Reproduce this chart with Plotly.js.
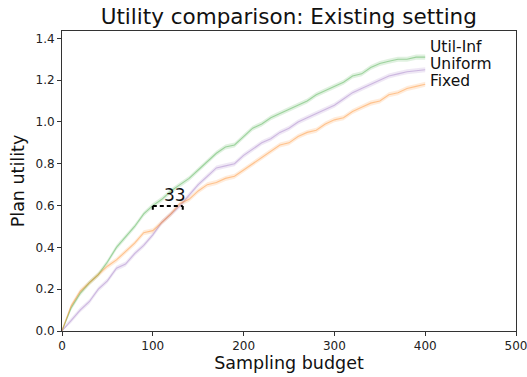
<!DOCTYPE html>
<html>
<head>
<meta charset="utf-8">
<script src="https://cdn.plot.ly/plotly-3.0.1.min.js"></script>
<style>html,body{margin:0;padding:0;background:#fff;}#chart{width:527px;height:377px;}</style>
</head>
<body>
<div id="chart"></div>
<script>
const budget = [0,10,20,30,40,50,60,70,80,90,100,110,120,130,140,150,160,170,180,190,200,210,220,230,240,250,260,270,280,290,300,310,320,330,340,350,360,370,380,390,400];
const utilInf = [0,0.11,0.18,0.23,0.27,0.33,0.40,0.45,0.50,0.56,0.60,0.63,0.67,0.70,0.73,0.77,0.81,0.85,0.88,0.89,0.93,0.97,0.99,1.02,1.04,1.06,1.08,1.10,1.13,1.15,1.17,1.19,1.22,1.23,1.26,1.28,1.29,1.30,1.30,1.31,1.31];
const uniform = [0,0.05,0.10,0.14,0.20,0.24,0.30,0.32,0.37,0.41,0.46,0.52,0.56,0.60,0.65,0.70,0.74,0.78,0.79,0.80,0.84,0.87,0.90,0.92,0.95,0.97,1.00,1.02,1.04,1.06,1.08,1.11,1.14,1.16,1.18,1.20,1.22,1.23,1.24,1.245,1.25];
const fixed = [0,0.12,0.19,0.23,0.27,0.31,0.34,0.38,0.42,0.47,0.48,0.52,0.56,0.61,0.63,0.67,0.70,0.71,0.73,0.74,0.77,0.80,0.83,0.86,0.89,0.90,0.93,0.95,0.96,0.99,1.01,1.02,1.05,1.07,1.09,1.10,1.13,1.14,1.16,1.17,1.18];
const seriesNames = ["Util-Inf","Uniform","Fixed"];
const gapLevel = 0.598;
const gapStart = 100;
const gapEnd = 133;
const xTicks = [0,100,200,300,400,500];
const yTicks = [0,0.2,0.4,0.6,0.8,1.0,1.2,1.4];

const band = 0.012;
const font = "DejaVu Sans, sans-serif";
const series = [
  {name: seriesNames[0], y: utilInf, rgb: "44,160,44"},
  {name: seriesNames[1], y: uniform, rgb: "148,103,189"},
  {name: seriesNames[2], y: fixed, rgb: "255,127,14"}
];
const traces = [];
series.forEach(s => {
  traces.push({x: budget, y: s.y.map(v => v + band), mode: "lines", line: {width: 0, color: "rgba(0,0,0,0)"}, hoverinfo: "skip", showlegend: false});
  traces.push({x: budget, y: s.y.map(v => Math.max(0, v - band)), mode: "lines", line: {width: 0, color: "rgba(0,0,0,0)"}, fill: "tonexty", fillcolor: "rgba(" + s.rgb + ",0.15)", hoverinfo: "skip", showlegend: false});
  traces.push({x: budget, y: s.y, mode: "lines", line: {width: 1.1, color: "rgba(" + s.rgb + ",0.38)"}, name: s.name, showlegend: false});
});

const last = budget.length - 1;
const labelYs = [1.357, 1.275, 1.195];
const annotations = series.map((s, i) => ({
  x: budget[last] + 3, y: labelYs[i], xref: "x", yref: "y", text: s.name, showarrow: false,
  xanchor: "left", yanchor: "middle", font: {family: font, size: 15.5, color: "#111"}
}));
annotations.push({
  x: (gapStart + gapEnd) / 2 + 8, y: gapLevel, xref: "x", yref: "y", text: String(gapEnd - gapStart),
  showarrow: false, xanchor: "center", yanchor: "bottom", yshift: -1, font: {family: font, size: 17, color: "#111"}
});

const tickDrop = 0.018;
const layout = {
  width: 527, height: 377,
  margin: {l: 62, r: 11, t: 31, b: 46},
  paper_bgcolor: "#fff", plot_bgcolor: "#fff",
  showlegend: false,
  title: {text: "Utility comparison: Existing setting", x: 0.548, xanchor: "center", y: 0.957, yanchor: "middle", font: {family: font, size: 21.5, color: "#111"}},
  xaxis: {
    range: [0, 500], tickvals: xTicks, ticktext: xTicks.map(String), ticks: "outside", ticklen: 4, tickcolor: "#333",
    ticklabeloverflow: "allow",
    showgrid: false, zeroline: false, showline: true, linecolor: "#333", linewidth: 1, mirror: true,
    tickfont: {family: font, size: 12, color: "#222"},
    title: {text: "Sampling budget", font: {family: font, size: 17.5, color: "#111"}, standoff: 3}
  },
  yaxis: {
    range: [0, 1.435], tickvals: yTicks, ticktext: yTicks.map(v => v.toFixed(1)), ticks: "outside", ticklen: 4, tickcolor: "#333",
    ticklabeloverflow: "allow",
    showgrid: false, zeroline: false, showline: true, linecolor: "#333", linewidth: 1, mirror: true,
    tickfont: {family: font, size: 12, color: "#222"},
    title: {text: "Plan utility", font: {family: font, size: 17.5, color: "#111"}, standoff: 6}
  },
  shapes: [
    {type: "line", layer: "above", xref: "x", yref: "y", x0: gapStart, x1: gapEnd, y0: gapLevel, y1: gapLevel, line: {color: "#000", width: 2, dash: "4px,3px"}},
    {type: "line", layer: "above", xref: "x", yref: "y", x0: gapStart, x1: gapStart, y0: gapLevel, y1: gapLevel - tickDrop, line: {color: "#000", width: 2}},
    {type: "line", layer: "above", xref: "x", yref: "y", x0: gapEnd, x1: gapEnd, y0: gapLevel, y1: gapLevel - tickDrop, line: {color: "#000", width: 2}}
  ],
  annotations: annotations
};
Plotly.newPlot("chart", traces, layout, {displayModeBar: false, staticPlot: true});
</script>
</body>
</html>
